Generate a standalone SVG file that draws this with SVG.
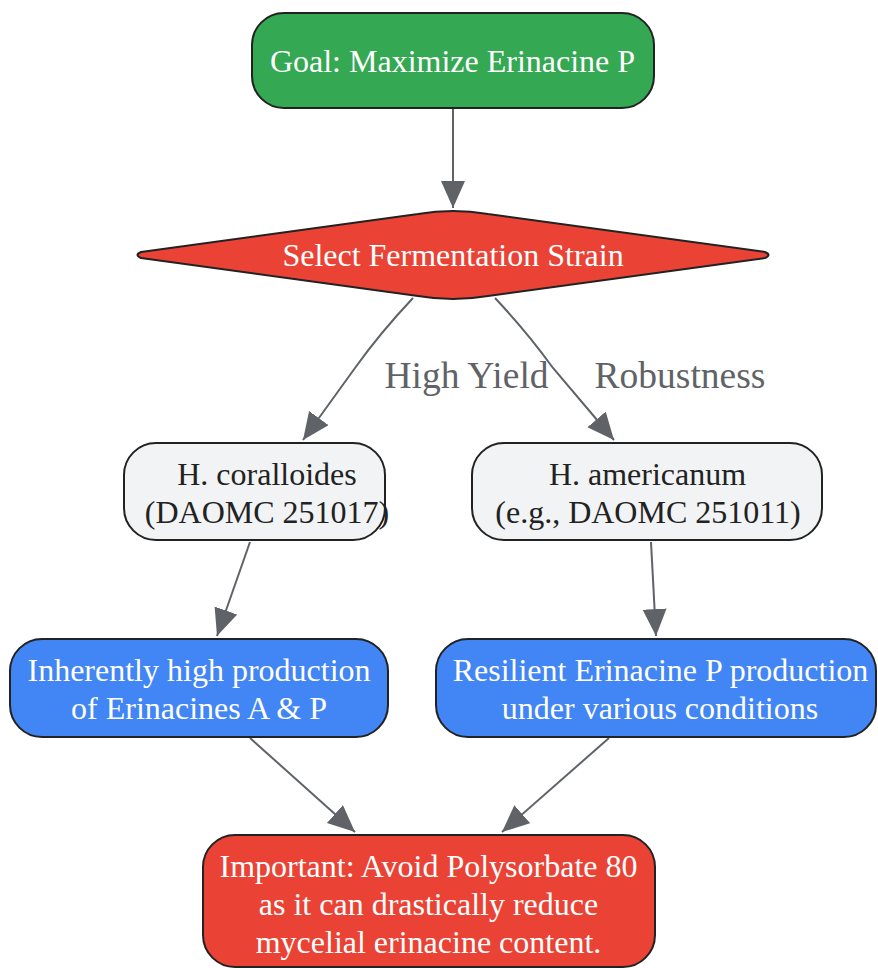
<svg xmlns="http://www.w3.org/2000/svg" width="878" height="968" viewBox="0 0 878 968">
<style>
.node-shape{stroke:#222222;stroke-width:2}
.green{fill:#34A853}
.red{fill:#EA4335}
.grey{fill:#F1F3F4}
.blue{fill:#4285F4}
.t{font-family:"Liberation Serif","Times New Roman",serif;font-size:32px;text-anchor:middle}
.w{fill:#FFFFFF}
.d{fill:#222222}
.edge{fill:none;stroke:#5F6368;stroke-width:2}
.lbl{font-family:"Liberation Serif","Times New Roman",serif;font-size:37.5px;fill:#5F6368;text-anchor:middle}
</style>
<defs>
<marker id="arrow" markerUnits="userSpaceOnUse" markerWidth="28" markerHeight="26" refX="27" refY="12" orient="auto">
<path d="M0,0 L27,12 L0,24 z" fill="#5F6368"/>
</marker>
</defs>
<rect width="878" height="968" fill="#FFFFFF"/>
<g id="connectors">
<path class="edge" d="M453,108 L453,208" marker-end="url(#arrow)"/>
<path class="edge" d="M413,298 Q380,333 355,368 L303,440" marker-end="url(#arrow)"/>
<path class="edge" d="M495,298 Q528,333 553,368 L614,440" marker-end="url(#arrow)"/>
<path class="edge" d="M250,542 L217,636" marker-end="url(#arrow)"/>
<path class="edge" d="M651,542 L656,636" marker-end="url(#arrow)"/>
<path class="edge" d="M250,738 L355,832" marker-end="url(#arrow)"/>
<path class="edge" d="M609,738 L502,832" marker-end="url(#arrow)"/>
<text class="lbl" x="466.5" y="388">High Yield</text>
<text class="lbl" x="680" y="388">Robustness</text>
</g>
<g id="goal">
<rect class="node-shape green" x="252" y="13" width="402" height="95" rx="32" ry="32"/>
<text class="t w" x="452.5" y="72">Goal: Maximize Erinacine P</text>
</g>
<g id="select">
<path class="node-shape red" stroke-linejoin="round" d="M418,214 Q453,208 488,214 L765,252 Q772,255 765,258 L488,296 Q453,302 418,296 L141,258 Q134,255 141,252 Z"/>
<text class="t w" x="453" y="266">Select Fermentation Strain</text>
</g>
<g id="coralloides">
<rect class="node-shape grey" x="124" y="443" width="261" height="97" rx="32" ry="32"/>
<text class="t d" x="267" y="485">H. coralloides</text>
<text class="t d" x="267" y="523">(DAOMC 251017)</text>
</g>
<g id="americanum">
<rect class="node-shape grey" x="472" y="443" width="350" height="97" rx="32" ry="32"/>
<text class="t d" x="647.5" y="485">H. americanum</text>
<text class="t d" x="648" y="523">(e.g., DAOMC 251011)</text>
</g>
<g id="high-production">
<rect class="node-shape blue" x="10" y="639" width="378" height="98" rx="32" ry="32"/>
<text class="t w" x="199" y="681">Inherently high production</text>
<text class="t w" x="199" y="719">of Erinacines A &amp; P</text>
</g>
<g id="resilient">
<rect class="node-shape blue" x="436" y="639" width="440" height="98" rx="32" ry="32"/>
<text class="t w" x="660.5" y="681">Resilient Erinacine P production</text>
<text class="t w" x="660" y="719">under various conditions</text>
</g>
<g id="important">
<rect class="node-shape red" x="203" y="835" width="452" height="132" rx="32" ry="32"/>
<text class="t w" x="428.5" y="877">Important: Avoid Polysorbate 80</text>
<text class="t w" x="428.5" y="915">as it can drastically reduce</text>
<text class="t w" x="428.5" y="953">mycelial erinacine content.</text>
</g>
</svg>
